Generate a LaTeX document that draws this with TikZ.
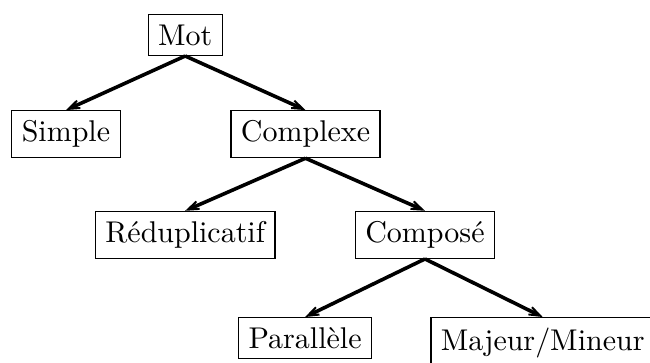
\documentclass[tikz,border=0pt]{standalone}
\usepackage{tikz}
\usetikzlibrary{positioning,arrows.meta}

\tikzset{
  boite/.style={draw,rectangle,anchor=north,inner sep=3.33pt},
  fleche/.style={-{Stealth[length=11pt,width=8pt,inset=8.5pt]},very thick}
}

\begin{document}
\begin{tikzpicture}
\useasboundingbox (0,0) rectangle (7.617,-4.253);
\node[boite] (mot) at (2.17,-0.164) {Mot};
\node[boite] (simple) at (0.773,-1.29) {Simple};
\node[boite] (complexe) at (3.58,-1.29) {Complexe};
\node[boite] (redup) at (2.17,-2.47) {Réduplicatif};
\node[boite] (compose) at (4.98,-2.47) {Composé};
\node[boite] (parallele) at (3.575,-3.715) {Parallèle};
\node[boite] (majeur) at (6.36,-3.715) {Majeur/Mineur};

\draw[fleche] (mot.south) -- (simple.north);
\draw[fleche] (mot.south) -- (complexe.north);
\draw[fleche] (complexe.south) -- (redup.north);
\draw[fleche] (complexe.south) -- (compose.north);
\draw[fleche] (compose.south) -- (parallele.north);
\draw[fleche] (compose.south) -- (majeur.north);
\end{tikzpicture}
\end{document}
